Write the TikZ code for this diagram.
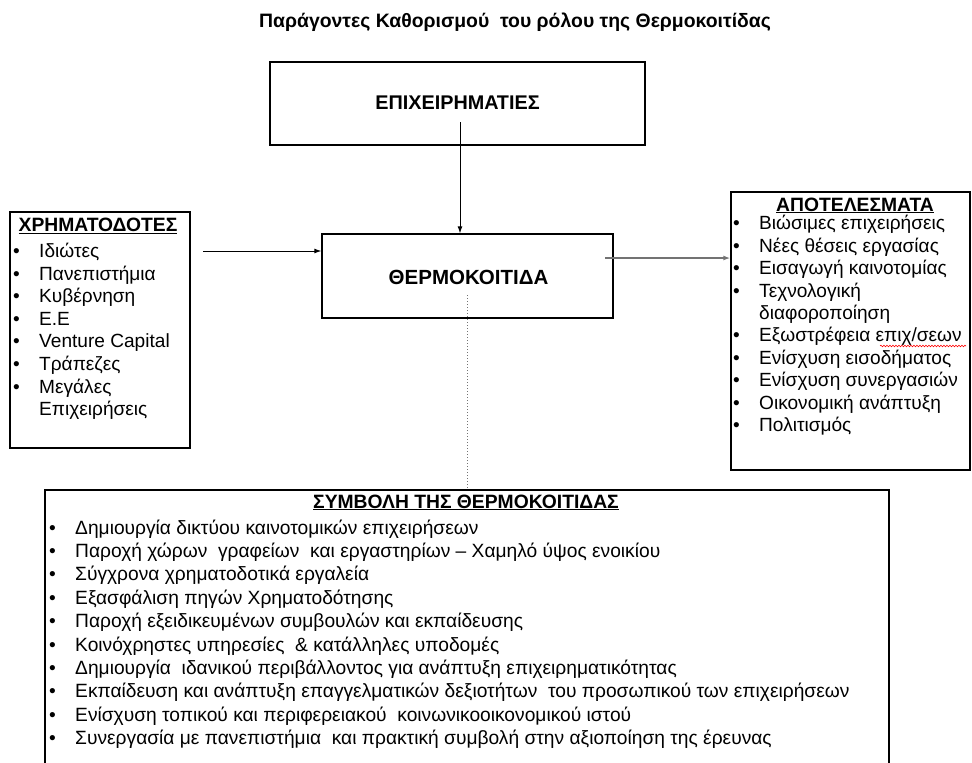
\documentclass[tikz,border=0pt]{standalone}
\usepackage{fontspec}
\setmainfont{Liberation Sans}
\usetikzlibrary{calc,arrows.meta,decorations.pathmorphing}
\newcommand{\bul}{\strut\makebox[26pt][l]{•}}
\newcommand{\cont}{\strut\hspace*{26pt}}

\begin{document}
\begin{tikzpicture}[x=1pt, y=-1pt,
	box/.style={draw, line width=1.4pt, inner sep=0pt},
	head/.style={anchor=base, font=\fontsize{19.3}{22}\selectfont\bfseries},
	lst/.style={anchor=north west, align=left, inner sep=0pt, font=\fontsize{19.1}{22.6}\selectfont},
	link/.style={-{Latex[length=7pt, width=5pt]}, line width=0.9pt}]
			%%%%% START %%%%%
			\useasboundingbox (0, 0) rectangle (972, 763);
			\clip (0, 0) rectangle (972, 763);
			
			\node[head, font=\fontsize{19.4}{22}\selectfont\bfseries] (title) at (515, 27) {Παράγοντες Καθορισμού\ \ του ρόλου της Θερμοκοιτίδας};
			
			% boxes
			\node[box, minimum width=375, minimum height=83] (epi) at (457.5, 103.5) {};
			\node[head, font=\fontsize{19.8}{22}\selectfont\bfseries] at (457.5, 109) {ΕΠΙΧΕΙΡΗΜΑΤΙΕΣ};
			
			\node[box, minimum width=291, minimum height=84] (therm) at (467.5, 276) {};
			\node[head, font=\fontsize{20.5}{22}\selectfont\bfseries] at (468.5, 284) {ΘΕΡΜΟΚΟΙΤΙΔΑ};
			
			\node[box, minimum width=180, minimum height=236] (fin) at (100, 330) {};
			\node[head] at (98, 231.5) {\underline{ΧΡΗΜΑΤΟΔΟΤΕΣ}};
			\node[lst] (finlist) at (13, 241.5) {\bul Ιδιώτες\\ \bul Πανεπιστήμια\\ \bul Κυβέρνηση\\ \bul Ε.Ε\\ \bul Venture Capital\\ \bul Τράπεζες\\ \bul Μεγάλες\\ \cont Επιχειρήσεις};
			
			\node[box, minimum width=239, minimum height=278] (res) at (850.5, 331) {};
			\node[head] at (855, 211) {\underline{ΑΠΟΤΕΛΕΣΜΑΤΑ}};
			\node[lst, font=\fontsize{19.1}{22.4}\selectfont] (reslist) at (733, 214) {\bul Βιώσιμες επιχειρήσεις\\ \bul Νέες θέσεις εργασίας\\ \bul Εισαγωγή καινοτομίας\\ \bul Τεχνολογική\\ \cont διαφοροποίηση\\ \bul Εξωστρέφεια επιχ/σεων\\ \bul Ενίσχυση εισοδήματος\\ \bul Ενίσχυση συνεργασιών\\ \bul Οικονομική ανάπτυξη\\ \bul Πολιτισμός};
			\draw[red, line width=0.6pt, decorate, decoration={snake, amplitude=0.8pt, segment length=3pt}] (880, 346) -- (966, 346);
			
			\node[box, minimum width=844, minimum height=300] (sym) at (467, 640) {};
			\node[head] at (466, 508) {\underline{ΣΥΜΒΟΛΗ ΤΗΣ ΘΕΡΜΟΚΟΙΤΙΔΑΣ}};
			\node[lst, font=\fontsize{19.2}{23.4}\selectfont] (symlist) at (49, 517.6) {\bul Δημιουργία δικτύου καινοτομικών επιχειρήσεων\\ \bul Παροχή χώρων\ \ γραφείων\ \ και εργαστηρίων -- Χαμηλό ύψος ενοικίου\\ \bul Σύγχρονα χρηματοδοτικά εργαλεία\\ \bul Εξασφάλιση πηγών Χρηματοδότησης\\ \bul Παροχή εξειδικευμένων συμβουλών και εκπαίδευσης\\ \bul Κοινόχρηστες υπηρεσίες\ \ \& κατάλληλες υποδομές\\ \bul Δημιουργία\ \ ιδανικού περιβάλλοντος για ανάπτυξη επιχειρηματικότητας\\ \bul Εκπαίδευση και ανάπτυξη επαγγελματικών δεξιοτήτων\ \ του προσωπικού των επιχειρήσεων\\ \bul Ενίσχυση τοπικού και περιφερειακού\ \ κοινωνικοοικονομικού ιστού\\ \bul Συνεργασία με πανεπιστήμια\ \ και πρακτική συμβολή στην αξιοποίηση της έρευνας};
			
			% connectors
			\coordinate (epiout) at (460, 122);
			\draw[link] (epiout) -- (epiout |- therm.north);
			
			\coordinate (finout) at (203, 251);
			\draw[link] (finout) -- (finout -| therm.west);
			
			\coordinate (thermout) at (605, 258);
			\draw[link, black!55, line width=1.5pt] (thermout) -- (thermout -| res.west);
			
			\coordinate (thermmid) at (467, 295);
			\draw[dotted, black!55, line width=1pt] (thermmid) -- (thermmid |- sym.north);
			%%%%% END %%%%%
\end{tikzpicture}
\end{document}
